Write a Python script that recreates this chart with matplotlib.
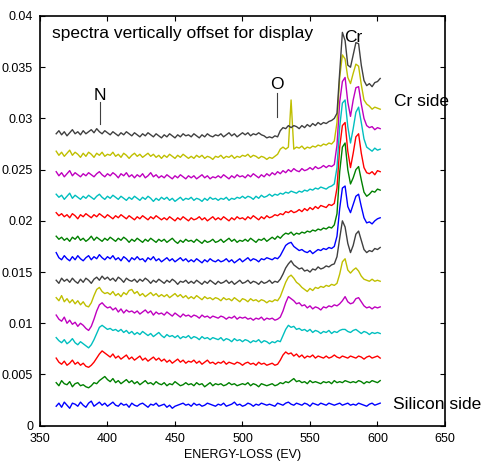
import numpy as np
import matplotlib
matplotlib.use('Agg')
import matplotlib.pyplot as plt

plt.rcParams['font.family'] = ['Liberation Sans', 'DejaVu Sans']

# energia (eV), amostrada a cada 2 eV
energia = np.arange(362, 603, 2)

# espectros, em unidades de 1e-4, ja com o deslocamento vertical
azul1 = [19, 22, 18, 23, 20, 17, 22, 21, 19, 23,
         20, 18, 22, 24, 19, 21, 23, 20, 22, 19,
         21, 23, 20, 19, 22, 20, 21, 18, 22, 20,
         19, 21, 22, 20, 18, 21, 20, 22, 19, 20,
         21, 18, 20, 17, 19, 20, 21, 22, 20, 21,
         19, 22, 20, 21, 19, 20, 22, 21, 20, 19,
         21, 20, 22, 19, 20, 21, 23, 20, 21, 19,
         20, 22, 21, 19, 21, 20, 22, 21, 20, 21,
         20, 19, 22, 21, 20, 22, 23, 21, 20, 22,
         21, 20, 22, 21, 19, 22, 21, 20, 22, 21,
         20, 22, 21, 20, 21, 22, 20, 21, 22, 20,
         21, 20, 22, 21, 20, 19, 21, 22, 20, 21,
         22]
verde2 = [42, 39, 44, 41, 40, 43, 38, 41, 42, 39,
          40, 38, 37, 39, 42, 41, 44, 46, 48, 45,
          43, 46, 42, 44, 41, 43, 45, 42, 44, 41,
          43, 40, 42, 44, 41, 42, 40, 43, 41, 40,
          42, 39, 41, 40, 43, 41, 39, 40, 42, 40,
          41, 39, 42, 40, 41, 38, 40, 42, 39, 41,
          40, 41, 39, 40, 42, 40, 41, 39, 40, 41,
          40, 42, 39, 41, 40, 38, 41, 40, 39, 40,
          41, 39, 40, 42, 41, 43, 42, 44, 46, 43,
          44, 42, 43, 41, 44, 42, 43, 42, 41, 43,
          42, 43, 41, 44, 42, 43, 42, 44, 43, 42,
          43, 42, 44, 43, 41, 43, 42, 44, 43, 42,
          44]
vermelho3 = [66, 62, 60, 63, 59, 61, 64, 60, 62, 59,
             61, 58, 57, 59, 62, 66, 70, 73, 71, 69,
             67, 70, 66, 68, 65, 67, 69, 65, 67, 64,
             66, 68, 64, 66, 63, 65, 67, 64, 66, 63,
             65, 62, 64, 61, 63, 65, 62, 64, 61, 63,
             62, 64, 61, 63, 60, 62, 64, 61, 62, 60,
             62, 61, 63, 60, 62, 61, 60, 62, 61, 59,
             61, 62, 60, 61, 59, 62, 60, 61, 59, 60,
             61, 59, 60, 64, 69, 72, 70, 71, 68, 70,
             67, 69, 66, 68, 67, 69, 66, 68, 67, 66,
             68, 66, 67, 69, 67, 66, 68, 67, 66, 68,
             67, 66, 68, 67, 65, 67, 68, 66, 67, 68,
             66]
ciano4 = [86, 83, 81, 84, 80, 82, 85, 81, 79, 82,
          80, 78, 76, 79, 84, 90, 96, 98, 96, 94,
          95, 93, 94, 92, 94, 91, 93, 90, 92, 89,
          91, 89, 92, 90, 88, 90, 87, 89, 91, 88,
          86, 89, 87, 88, 86, 88, 85, 87, 86, 88,
          85, 87, 86, 84, 87, 85, 86, 84, 86, 85,
          84, 86, 83, 85, 84, 82, 85, 83, 84, 82,
          84, 83, 81, 83, 82, 84, 81, 83, 82, 80,
          82, 81, 83, 82, 88, 94, 98, 96, 97, 94,
          95, 93, 94, 92, 94, 91, 93, 92, 90, 92,
          91, 93, 90, 92, 91, 93, 94, 94, 92, 91,
          93, 94, 92, 90, 92, 91, 89, 91, 90, 91,
          90]
magenta5 = [108, 104, 102, 106, 100, 103, 99, 101, 97, 100,
            98, 95, 93, 97, 104, 112, 118, 120, 117, 115,
            116, 113, 115, 111, 114, 110, 113, 111, 112, 110,
            112, 109, 111, 113, 110, 112, 108, 111, 109, 110,
            108, 111, 109, 107, 110, 108, 106, 109, 107, 108,
            106, 108, 107, 105, 108, 106, 107, 105, 107, 106,
            105, 107, 106, 104, 106, 105, 107, 104, 106, 105,
            106, 104, 105, 103, 105, 104, 106, 103, 105, 104,
            105, 103, 104, 106, 112, 120, 126, 124, 122, 119,
            120, 117, 118, 115, 117, 114, 116, 115, 113, 116,
            115, 117, 116, 118, 117, 119, 122, 126, 121, 119,
            120, 124, 125, 121, 117, 115, 116, 114, 116, 115,
            116]
amarelo6 = [125, 122, 127, 121, 124, 120, 123, 119, 122, 118,
            121, 117, 116, 120, 127, 133, 135, 131, 129, 130,
            128, 131, 127, 129, 126, 130, 128, 132, 133, 129,
            131, 127, 129, 126, 128, 130, 127, 129, 126, 128,
            126, 128, 125, 127, 129, 126, 128, 125, 127, 124,
            126, 124, 127, 125, 123, 126, 124, 125, 123, 125,
            124, 122, 125, 123, 124, 122, 125, 123, 121, 124,
            123, 121, 124, 122, 123, 121, 123, 122, 120, 122,
            121, 123, 122, 126, 133, 140, 145, 147, 144, 140,
            138, 135, 133, 131, 134, 132, 135, 134, 136, 135,
            137, 136, 138, 137, 139, 148, 160, 163, 152, 149,
            152, 154, 151, 146, 143, 142, 141, 143, 141, 142,
            141]
preto7 = [142, 139, 144, 141, 143, 140, 144, 141, 139, 143,
          140, 144, 142, 139, 143, 145, 142, 146, 143, 145,
          142, 144, 141, 145, 143, 140, 144, 142, 141, 143,
          140, 143, 141, 144, 142, 139, 142, 140, 143, 141,
          139, 142, 140, 143, 141, 138, 141, 140, 142, 139,
          141, 139, 142, 140, 138, 141, 139, 142, 140, 138,
          141, 139, 140, 142, 139, 141, 138, 140, 142, 139,
          140, 142, 139, 141, 140, 138, 141, 139, 140, 142,
          139, 141, 140, 143, 148, 154, 158, 161, 157, 155,
          153, 154, 151, 152, 150, 153, 152, 155, 153, 154,
          156, 155, 157, 158, 165, 183, 200, 194, 178, 169,
          176, 187, 190, 181, 172, 169, 171, 170, 173, 172,
          174]
azul8 = [169, 164, 162, 166, 163, 161, 165, 162, 166, 163,
         161, 164, 166, 162, 165, 163, 167, 164, 162, 165,
         163, 166, 162, 164, 161, 165, 163, 160, 164, 162,
         165, 162, 163, 160, 164, 162, 165, 161, 163, 160,
         162, 164, 161, 163, 160, 162, 164, 161, 163, 160,
         162, 160, 163, 161, 159, 162, 160, 163, 161, 160,
         162, 160, 161, 163, 160, 162, 159, 161, 163, 160,
         162, 164, 161, 163, 162, 160, 163, 162, 164, 163,
         162, 164, 163, 166, 171, 176, 178, 179, 175, 173,
         171, 172, 170, 169, 171, 168, 170, 172, 171, 173,
         172, 174, 173, 175, 185, 212, 232, 234, 214, 208,
         216, 224, 226, 214, 203, 198, 199, 197, 200, 202,
         203]
verde9 = [185, 182, 184, 181, 183, 180, 184, 182, 185, 181,
          183, 180, 182, 185, 181, 184, 182, 180, 183, 181,
          184, 182, 180, 183, 181, 184, 182, 179, 182, 180,
          183, 181, 179, 182, 180, 183, 181, 179, 182, 180,
          182, 179, 181, 183, 180, 178, 181, 179, 182, 180,
          181, 179, 182, 180, 178, 181, 179, 180, 182, 179,
          180, 182, 179, 181, 183, 180, 182, 179, 181, 180,
          182, 180, 183, 181, 179, 182, 181, 183, 180, 182,
          184, 182, 185, 183, 186, 188, 187, 189, 186, 188,
          187, 189, 188, 190, 189, 191, 190, 192, 191, 193,
          192, 194, 193, 196, 207, 248, 272, 276, 250, 236,
          242, 250, 253, 240, 228, 224, 226, 229, 228, 231,
          230]
vermelho10 = [208, 205, 207, 204, 206, 203, 207, 205, 202, 206,
              204, 207, 205, 203, 206, 204, 207, 205, 203, 206,
              204, 202, 205, 203, 206, 204, 202, 205, 203, 201,
              204, 202, 205, 203, 201, 204, 202, 205, 203, 201,
              203, 201, 204, 202, 200, 203, 201, 204, 202, 200,
              203, 201, 202, 204, 201, 203, 200, 202, 204, 201,
              203, 201, 204, 202, 200, 203, 201, 204, 202, 203,
              201, 204, 202, 205, 203, 201, 204, 202, 205, 203,
              204, 206, 205, 207, 206, 209, 208, 210, 208, 209,
              211, 209, 212, 210, 213, 211, 214, 212, 215, 214,
              213, 216, 215, 217, 232, 272, 293, 296, 268, 252,
              266, 282, 285, 266, 252, 247, 246, 248, 245, 249,
              248]
ciano11 = [226, 223, 225, 221, 224, 227, 222, 225, 223, 221,
           224, 222, 225, 223, 221, 224, 226, 223, 221, 224,
           222, 225, 223, 221, 224, 222, 220, 223, 221, 224,
           222, 220, 223, 221, 224, 222, 219, 222, 220, 223,
           221, 223, 220, 222, 219, 221, 223, 220, 222, 221,
           223, 220, 222, 221, 219, 222, 220, 223, 221, 222,
           220, 222, 221, 223, 220, 222, 221, 223, 222, 224,
           222, 224, 223, 221, 224, 222, 225, 223, 224, 226,
           224, 226, 225, 227, 226, 228, 227, 229, 228, 227,
           229, 228, 230, 229, 231, 230, 232, 231, 233, 232,
           231, 233, 234, 236, 252, 292, 315, 318, 292, 276,
           290, 306, 311, 296, 280, 272, 270, 268, 271, 269,
           270]
magenta12 = [248, 244, 247, 243, 246, 249, 244, 247, 245, 243,
             246, 244, 247, 245, 243, 246, 248, 245, 243, 246,
             244, 247, 245, 242, 246, 244, 247, 243, 245, 242,
             245, 243, 246, 242, 244, 247, 243, 245, 242, 244,
             242, 245, 243, 241, 244, 242, 245, 243, 241, 244,
             242, 244, 241, 243, 245, 242, 244, 241, 243, 242,
             244, 242, 245, 243, 241, 244, 242, 245, 243, 244,
             242, 245, 243, 246, 244, 242, 245, 243, 246, 244,
             247, 245, 248, 246, 249, 247, 250, 248, 251, 249,
             248, 251, 249, 250, 252, 250, 253, 251, 252, 254,
             252, 254, 253, 255, 274, 316, 336, 340, 316, 302,
             318, 330, 331, 314, 300, 293, 291, 292, 289, 291,
             290]
amarelo13 = [268, 264, 267, 263, 266, 269, 264, 267, 265, 262,
             266, 263, 267, 265, 262, 266, 264, 267, 263, 265,
             264, 267, 263, 265, 262, 266, 264, 261, 264, 266,
             263, 265, 262, 264, 266, 263, 265, 262, 264, 261,
             264, 262, 265, 263, 261, 264, 262, 265, 263, 261,
             263, 261, 264, 262, 264, 261, 263, 262, 260, 263,
             262, 264, 261, 263, 262, 264, 261, 263, 262, 264,
             263, 265, 262, 264, 263, 261, 263, 262, 260, 262,
             261, 263, 265, 270, 272, 270, 272, 318, 270, 272,
             271, 273, 270, 272, 271, 273, 272, 274, 273, 275,
             274, 276, 275, 278, 296, 340, 362, 358, 340, 334,
             344, 353, 351, 333, 318, 314, 312, 309, 311, 310,
             309]
preto14 = [285, 288, 284, 287, 283, 286, 289, 285, 287, 284,
           288, 285, 287, 289, 286, 290, 287, 285, 288, 286,
           284, 287, 285, 283, 286, 284, 287, 285, 283, 286,
           284, 282, 285, 283, 286, 284, 282, 285, 283, 281,
           284, 282, 285, 283, 281, 284, 282, 285, 283, 284,
           282, 285, 283, 281, 284, 282, 285, 283, 282, 284,
           283, 285, 282, 284, 286, 283, 285, 282, 284, 286,
           284, 286, 283, 285, 284, 286, 284, 283, 281, 282,
           281, 283, 282, 288, 291, 290, 293, 291, 293, 292,
           290, 293, 291, 294, 292, 295, 293, 296, 294, 296,
           295, 297, 298, 300, 305, 345, 384, 376, 352, 350,
           362, 374, 373, 352, 337, 332, 334, 331, 335, 336,
           339]

espectros = [azul1, verde2, vermelho3, ciano4, magenta5, amarelo6, preto7,
             azul8, verde9, vermelho10, ciano11, magenta12, amarelo13, preto14]
cores = ['#0000ff', '#008000', '#ff0000', '#00bfbf', '#bf00bf', '#bfbf00', '#404040'] * 2

fig = plt.figure(figsize=(4.83, 4.61), dpi=100)
ax = fig.add_axes([0.0828, 0.0766, 0.8385, 0.8887])

for y, cor in zip(espectros, cores):
    ax.plot(energia, np.array(y) * 1e-4, color=cor, lw=1.0)

# marcadores das bordas
ax.plot([394.4, 394.4], [0.0295, 0.0316], color='#404040', lw=0.8)
ax.plot([525.5, 525.5], [0.0301, 0.03245], color='#404040', lw=0.8)
ax.text(394.4, 0.03177, 'N', ha='center', va='baseline', fontsize=12.5)
ax.text(525.3, 0.03291, 'O', ha='center', va='baseline', fontsize=12.5)
ax.text(581.8, 0.03746, 'Cr', ha='center', va='baseline', fontsize=12.5)
ax.text(358.6, 0.0383, 'spectra vertically offset for display', ha='left', va='center', fontsize=12.5)
ax.text(612.2, 0.03119, 'Cr side', ha='left', va='baseline', fontsize=12.5)
ax.text(611.7, 0.00163, 'Silicon side', ha='left', va='baseline', fontsize=12.5)

ax.set_xlim(350, 650)
ax.set_ylim(0, 0.04)
ax.set_xticks([350, 400, 450, 500, 550, 600, 650])
ax.set_yticks([0, 0.005, 0.01, 0.015, 0.02, 0.025, 0.03, 0.035, 0.04])
ax.set_yticklabels(['0', '0.005', '0.01', '0.015', '0.02', '0.025', '0.03', '0.035', '0.04'])
ax.tick_params(direction='in', top=True, right=True, length=3.5, labelsize=9, pad=5)
for s in ax.spines.values():
    s.set_linewidth(1.2)
ax.set_xlabel('ENERGY-LOSS (EV)', fontsize=9, labelpad=3)

fig.savefig('out.png', dpi=100)
